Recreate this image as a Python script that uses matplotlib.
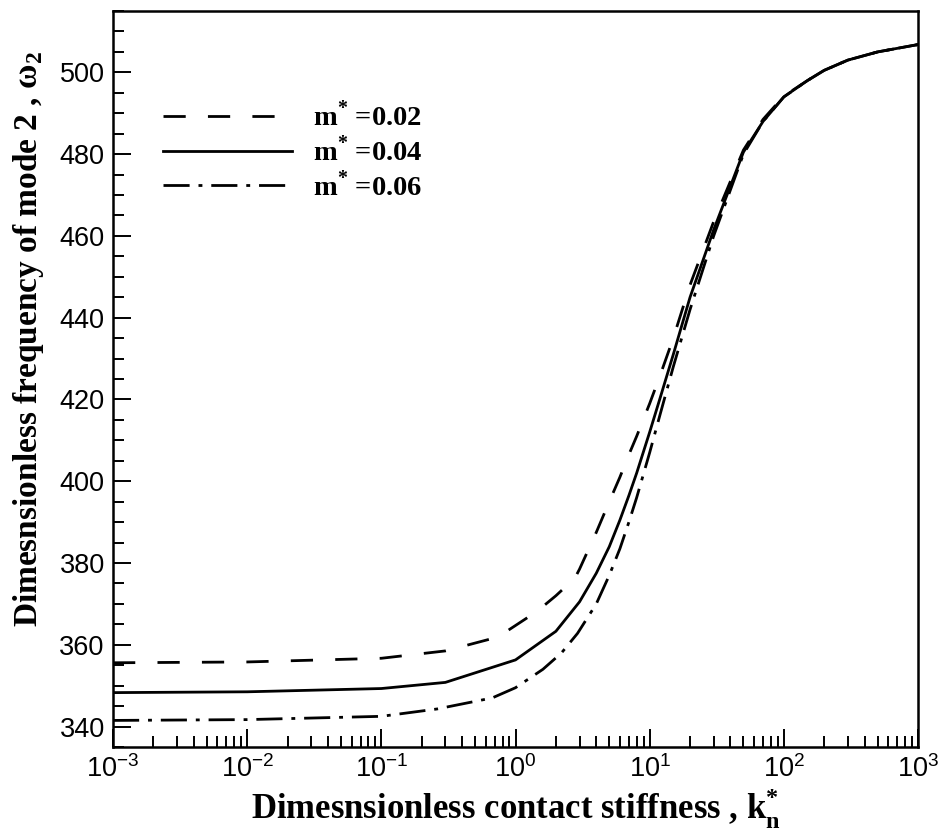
import matplotlib
matplotlib.use("Agg")
import matplotlib.pyplot as plt
from matplotlib.ticker import LogLocator, MultipleLocator, NullFormatter

plt.rcParams["font.family"] = "Liberation Sans"
plt.rcParams["mathtext.fontset"] = "custom"
plt.rcParams["mathtext.bf"] = "Liberation Serif:bold"
plt.rcParams["mathtext.rm"] = "Liberation Serif:bold"

# m* = 0.02
k_002 = [1e-3, 1e-2, 0.1, 0.3, 0.74, 1.45, 2.0, 2.77, 3.0, 4, 5, 6, 7, 8, 10, 12, 15, 20, 30, 50, 70, 100, 150, 200, 300, 500, 1000]
w_002 = [355.6, 355.8, 356.7, 358.5, 361.9, 368.2, 372.0, 376.3, 378.5, 387.5, 395.0, 401.0, 406.5, 411.0, 419.0, 426.0, 435.0, 448.0, 463.5, 481.0, 488.5, 494.2, 498.0, 500.5, 503.0, 505.0, 506.8]
# m* = 0.04
k_004 = [1e-3, 1e-2, 0.1, 0.3, 1.0, 2.0, 3.0, 4, 5, 6, 7, 8, 10, 12, 15, 20, 30, 50, 70, 100, 150, 200, 300, 500, 1000]
w_004 = [348.3, 348.5, 349.3, 350.8, 356.3, 363.3, 370.5, 377.5, 384.0, 390.5, 396.5, 402.0, 412.0, 420.5, 431.0, 445.0, 461.5, 480.5, 488.0, 494.0, 498.0, 500.5, 503.0, 505.0, 506.8]
# m* = 0.06
k_006 = [1e-3, 1e-2, 0.1, 0.26, 0.67, 1.0, 1.6, 2.2, 2.9, 4, 5, 6, 7, 8, 10, 12, 15, 20, 30, 50, 70, 100, 150, 200, 300, 500, 1000]
w_006 = [341.5, 341.7, 342.5, 344.3, 347.0, 349.5, 354.0, 358.0, 362.8, 370.0, 377.0, 383.5, 390.0, 396.0, 407.0, 416.5, 428.0, 442.0, 460.0, 480.0, 488.0, 494.0, 498.0, 500.5, 503.0, 505.0, 506.8]

labels = ["m$^{\\mathbf{*}}$ =0.02", "m$^{\\mathbf{*}}$ =0.04", "m$^{\\mathbf{*}}$ =0.06"]

fig = plt.figure(figsize=(9.42, 8.30), dpi=100)
ax = fig.add_axes([0.12, 0.1, 0.8545, 0.8867])

lw = 2.0
ax.plot(k_002, w_002, color="black", lw=lw, dashes=(8, 8), label=labels[0])
ax.plot(k_004, w_004, color="black", lw=lw, label=labels[1])
ax.plot(k_006, w_006, color="black", lw=lw, dashes=(9.4, 3.2, 1.4, 3.2), label=labels[2])

ax.set_xscale("log")
ax.set_xlim(1e-3, 1e3)
ax.set_ylim(335, 515)

ax.xaxis.set_major_locator(LogLocator(base=10, numticks=10))
ax.xaxis.set_minor_locator(LogLocator(base=10, subs=range(2, 10), numticks=100))
ax.xaxis.set_minor_formatter(NullFormatter())
ax.yaxis.set_major_locator(MultipleLocator(20))
ax.yaxis.set_minor_locator(MultipleLocator(5))

ax.tick_params(which="both", direction="in", top=False, right=False, width=1.4,
               labelsize=19.5, colors="black")
ax.tick_params(which="major", length=13, pad=6)
ax.tick_params(which="minor", length=8)
for s in ax.spines.values():
    s.set_linewidth(1.8)

ax.set_xlabel("Dimesnsionless contact stiffness , k$^{\\mathbf{*}}_{\\mathbf{n}}$",
              fontfamily="Liberation Serif", fontweight="bold", fontsize=25, labelpad=2)
ax.set_ylabel("Dimesnsionless frequency of mode 2 , ω$_{\\mathbf{2}}$",
              fontfamily="Liberation Serif", fontweight="bold", fontsize=24)
ax.yaxis.set_label_coords(-0.083, 0.555)

ax.legend(loc="upper left", bbox_to_anchor=(0.045, 0.897), frameon=False,
          handlelength=4.5, handletextpad=0.75, labelspacing=0.15, borderpad=0,
          prop={"family": "Liberation Serif", "weight": "bold", "size": 20.5})

fig.savefig("out.png", dpi=100)
